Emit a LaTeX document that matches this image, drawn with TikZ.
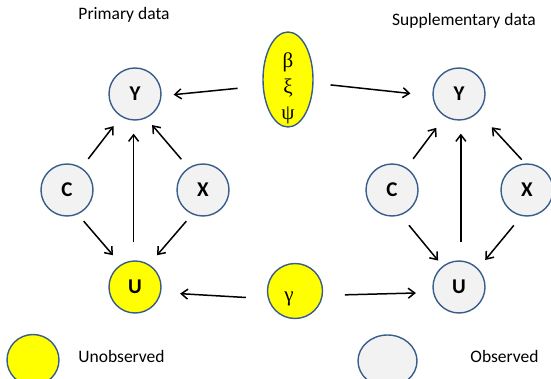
\documentclass[tikz,border=0pt]{standalone}
\usepackage{fontspec}
\setmainfont{Carlito}
\newfontfamily\greekfont{Liberation Serif}
\usetikzlibrary{shapes.geometric,arrows.meta}

\definecolor{rimblue}{RGB}{56,93,138}
\definecolor{obsgrey}{RGB}{242,242,242}
\definecolor{unobsyellow}{RGB}{255,255,0}

\tikzset{
  var/.style={circle, draw=rimblue, line width=1.4pt, fill=obsgrey, minimum size=52pt, inner sep=0pt, font=\fontsize{21}{21}\selectfont\bfseries},
  hidden/.style={var, fill=unobsyellow},
  param/.style={draw=rimblue, line width=1.4pt, fill=unobsyellow, inner sep=0pt},
  greek/.style={align=center, font=\greekfont\fontsize{21}{26}\selectfont},
  heading/.style={anchor=base, font=\fontsize{17.5}{17.5}\selectfont},
  edge/.style={-{Straight Barb[length=6.5pt,width=10pt]}, line width=1.5pt},
}

\begin{document}
\begin{tikzpicture}[x=1pt, y=-1pt]
    \useasboundingbox (0,0) rectangle (551,379);

    % Primary data
    \node[heading] (primtitle) at (124,20) {Primary data};
    \node[var] (Y1) at (135,94) {Y};
    \node[var] (C1) at (67,190) {C};
    \node[var] (X1) at (203,190) {X};
    \node[hidden] (U1) at (135,287) {U};

    % Supplementary data
    \node[heading] (supptitle) at (464,26) {Supplementary data};
    \node[var] (Y2) at (459,94) {Y};
    \node[var] (C2) at (392,190) {C};
    \node[var] (X2) at (527,190) {X};
    \node[var] (U2) at (459,287) {U};

    % Parameters
    \node[param, ellipse, minimum width=50pt, minimum height=95pt, label={[greek, yshift=-9pt]center:β\\ξ\\ψ}] (beta) at (288,79.5) {};
    \node[param, circle, minimum size=55pt, label={[greek, xshift=-6pt, yshift=-8pt]center:γ}] (gamma) at (295,291) {};

    % Legend
    \node[hidden, ellipse, minimum width=52pt, minimum height=51pt] (keyhid) at (33,360) {};
    \node[heading] (keyhidtext) at (121.5,362) {Unobserved};
    \node[var, ellipse, minimum width=59pt, minimum height=52pt] (keyobs) at (387.5,361) {};
    \node[heading] (keyobstext) at (504.5,362) {Observed};

    % Arrows, primary
    \draw[edge, shorten <=25pt, shorten >=12pt] (beta.194) -- (Y1.-4.5);
    \draw[edge, shorten <=11pt, shorten >=12pt] (C1.57) -- (Y1.238);
    \draw[edge, shorten <=18pt, shorten >=13pt] (U1.93) -- (Y1.267);
    \draw[edge, shorten <=11pt, shorten >=9pt] (X1.123) -- (Y1.-65);
    \draw[edge, shorten <=9pt, shorten >=12pt] (C1.-66) -- (U1.122);
    \draw[edge, shorten <=9pt, shorten >=12pt] (X1.-114) -- (U1.58);
    \draw[edge, shorten <=22pt, shorten >=19pt] (gamma.196) -- (U1.-12);

    % Arrows, supplementary
    \draw[edge, shorten <=17pt, shorten >=22pt] (beta.-8) -- (Y2.184);
    \draw[edge, shorten <=11pt, shorten >=14pt] (C2.57) -- (Y2.238);
    \draw[edge, shorten <=18pt, shorten >=13pt] (U2.86) -- (Y2.-86);
    \draw[edge, shorten <=5pt, shorten >=20pt] (X2.94) -- (Y2.-44);
    \draw[edge, shorten <=13pt, shorten >=7pt] (C2.-71) -- (U2.128);
    \draw[edge, shorten <=12pt, shorten >=11pt] (X2.-102) -- (U2.44);
    \draw[edge, shorten <=22pt, shorten >=17pt] (gamma.-9) -- (U2.192);
\end{tikzpicture}
\end{document}
